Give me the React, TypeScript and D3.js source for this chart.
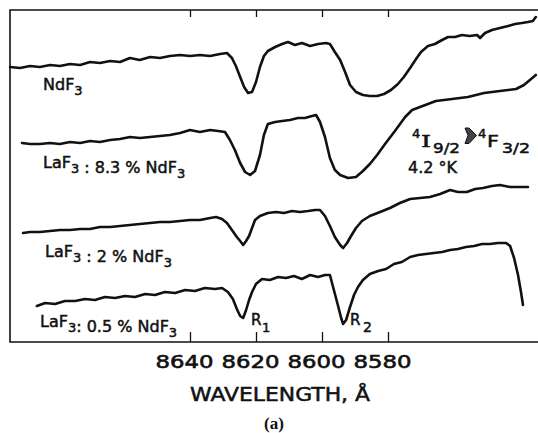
import React, { useRef, useEffect } from 'react';
import { select, scaleLinear, line, axisBottom, axisTop } from 'd3';

// wavelength (Angstrom) and signal (arb. units)
const ndf3Wl = [8694.5,8691.5,8688.5,8685.5,8682.4,8679.4,8676.4,8673.3,8670.3,8667.3,8664.2,8661.2,8658.2,8655.2,8652.1,8649.1,8646.1,8643.0,8640.0,8637.0,8633.9,8630.9,8628.8,8627.3,8626.1,8624.8,8623.6,8622.4,8621.2,8620.0,8618.8,8617.6,8616.4,8614.2,8612.1,8610.3,8608.2,8606.1,8603.6,8601.2,8598.8,8597.6,8596.1,8594.5,8593.0,8591.5,8589.7,8587.6,8585.5,8583.3,8581.2,8579.1,8577.0,8575.2,8573.3,8571.5,8570.0,8567.9,8565.8,8563.6,8561.8,8559.7,8557.6,8555.2,8553.0,8552.1,8550.6,8548.5,8546.1,8543.6,8541.5,8539.4,8537.6,8536.1,8535.2];
const ndf3Int = [273,272,274,273,275,274,276,275,278,277,279,278,282,280,283,282,284,285,284,285,284,286,287,282,274,263,253,247,248,258,273,284,289,293,296,298,295,297,294,296,297,296,288,280,268,255,248,245,244,244,246,250,256,263,272,281,288,294,296,300,303,303,305,304,305,302,307,310,312,314,316,317,318,319,323];

const la83Wl = [8690.9,8688.5,8685.5,8682.4,8679.4,8676.4,8673.3,8670.3,8667.3,8664.2,8661.2,8658.2,8655.2,8652.1,8649.1,8646.1,8643.0,8640.0,8637.0,8633.9,8631.5,8629.4,8627.9,8626.4,8624.8,8623.3,8621.8,8620.3,8618.8,8617.6,8616.4,8614.2,8612.1,8609.7,8607.3,8605.2,8603.0,8601.8,8600.6,8599.1,8597.6,8596.1,8594.5,8592.1,8589.7,8587.6,8585.5,8583.3,8580.9,8577.9,8574.8,8572.7,8570.3,8567.9,8565.5,8563.0,8560.6,8558.2,8555.8,8553.3,8550.9,8548.5,8546.1,8543.6,8541.2,8538.8,8537.0,8535.2];
const la83Int = [197,196,196,197,196,198,197,199,198,200,201,203,202,203,204,205,207,210,208,210,209,208,200,190,177,168,165,169,185,205,216,218,219,220,222,222,224,225,218,203,182,170,165,162,163,169,176,185,196,209,223,230,233,236,239,240,241,242,243,245,247,248,249,250,251,255,260,265];

const la2Wl = [8690.6,8688.5,8685.5,8682.4,8679.4,8676.4,8673.3,8670.3,8667.3,8664.2,8661.2,8658.2,8655.2,8652.1,8649.1,8646.1,8643.0,8640.0,8637.0,8633.9,8632.1,8630.3,8628.8,8627.3,8625.8,8624.8,8623.9,8623.0,8622.1,8621.2,8620.3,8618.8,8616.4,8613.9,8611.5,8609.1,8606.7,8604.2,8602.1,8600.6,8599.1,8597.6,8596.1,8594.5,8593.6,8592.4,8591.2,8589.7,8587.9,8585.5,8582.4,8579.4,8576.4,8573.3,8570.3,8567.3,8564.2,8561.2,8558.8,8556.1,8553.6,8551.2,8548.5,8546.1,8543.0,8540.0,8537.6];
const la2Int = [107,108,108,109,110,110,111,111,113,113,114,115,116,117,118,118,119,120,120,122,123,121,117,110,103,99,95,99,104,112,120,124,127,128,127,129,128,129,130,130,124,114,103,95,92,97,104,112,119,124,128,132,137,141,142,143,146,150,148,148,151,152,154,155,153,153,153];

const la05Wl = [8686.4,8683.9,8680.9,8677.9,8674.8,8671.8,8668.8,8665.8,8662.7,8659.7,8656.7,8653.6,8650.6,8647.6,8644.5,8641.5,8638.5,8635.5,8632.4,8630.3,8628.5,8627.0,8625.8,8624.8,8623.9,8623.0,8622.1,8621.2,8620.0,8618.2,8615.8,8613.3,8610.9,8608.5,8606.1,8603.6,8601.2,8599.1,8597.6,8596.4,8595.2,8594.2,8593.6,8592.7,8591.5,8590.3,8589.1,8587.6,8585.5,8583.0,8580.6,8578.2,8575.8,8573.3,8570.9,8568.5,8566.1,8563.6,8561.2,8558.8,8556.4,8553.9,8551.5,8549.1,8546.7,8544.2,8543.0,8541.8,8540.6,8539.7,8539.1];
const la05Int = [34,37,36,39,39,41,40,43,42,44,43,46,45,48,47,50,49,52,51,52,48,41,31,24,22,30,40,48,56,61,60,63,62,64,61,65,63,65,65,50,35,22,16,20,33,45,53,60,66,69,71,76,78,83,85,86,87,88,90,91,93,94,96,96,97,97,94,82,65,48,35];

const tickWl = [8640, 8620, 8600, 8580];

const W = 538;
const H = 433;
const frameLeft = 10;
const frameTop = 10;
const frameBottom = 342;
const font = "'DejaVu Sans', sans-serif";

export default function App() {
  const gRef = useRef(null);

  const x = scaleLinear().domain([8640, 8580]).range([190, 388]);
  const y = scaleLinear().domain([0, 330]).range([340, 10]);

  useEffect(() => {
    const g = select(gRef.current);

    const series = [
      [ndf3Wl, ndf3Int],
      [la83Wl, la83Int],
      [la2Wl, la2Int],
      [la05Wl, la05Int],
    ].map(([wl, v]) => wl.map((w, i) => [w, v[i]]));

    const path = line().x(d => x(d[0])).y(d => y(d[1]));

    g.select('#traces')
      .selectAll('path')
      .data(series)
      .join('path')
      .attr('d', path)
      .attr('fill', 'none')
      .attr('stroke', '#111')
      .attr('stroke-width', 2.6)
      .attr('stroke-linejoin', 'round')
      .attr('stroke-linecap', 'round');

    // bottom ticks point inward, labels underneath
    const xb = axisBottom(x)
      .tickValues(tickWl)
      .tickFormat(d => String(d))
      .tickSizeInner(-10)
      .tickSizeOuter(0)
      .tickPadding(13);
    const gb = g.select('#xaxis').attr('transform', `translate(0,${frameBottom})`).call(xb);
    gb.select('.domain').remove();
    gb.attr('font-family', null).attr('font-size', null);
    gb.selectAll('line').attr('stroke', '#111').attr('stroke-width', 1.3);
    gb.selectAll('text')
      .attr('fill', '#111')
      .attr('stroke', '#111')
      .attr('stroke-width', 0.6)
      .style('font-family', font)
      .style('font-size', '18px')
      .attr('dx', -6)
      .attr('textLength', 58)
      .attr('lengthAdjust', 'spacingAndGlyphs');

    const xt = axisTop(x).tickValues(tickWl).tickSizeInner(-7).tickSizeOuter(0).tickFormat(() => '');
    const gt = g.select('#xtop').attr('transform', `translate(0,${frameTop})`).call(xt);
    gt.select('.domain').remove();
    gt.selectAll('line').attr('stroke', '#111').attr('stroke-width', 1.3);
  }, []);

  const sub = (t, size = 13, d = 5) => (
    <>
      <tspan dy={d} fontSize={size}>{t}</tspan>
      <tspan dy={-d}></tspan>
    </>
  );

  return (
    <svg width={W} height={H} style={{ position: 'absolute', left: 0, top: 0, background: '#fff' }}>
      <g ref={gRef}>
        <path d={`M${W},${frameTop}H${frameLeft}V${frameBottom}H${W}`} fill="none" stroke="#111" strokeWidth={1.6} />
        <g id="xtop"></g>
        <g id="xaxis"></g>
        <g id="traces"></g>
      </g>

      <g fontFamily={font} fontSize={16} fill="#111" stroke="#111" strokeWidth={0.5}>
        <text x={43} y={90}>NdF{sub('3')}</text>
        <text x={43} y={168}>LaF{sub('3')} : 8.3 % NdF{sub('3')}</text>
        <text x={45} y={257}>LaF{sub('3')} : 2 % NdF{sub('3')}</text>
        <text x={40} y={327}>LaF{sub('3')}: 0.5 % NdF{sub('3')}</text>

        <text x={251} y={325} fontSize={15}>R</text>
        <text x={262} y={332} fontSize={13}>1</text>
        <text x={350} y={325} fontSize={15}>R</text>
        <text x={363} y={332} fontSize={14}>2</text>

        <text x={412} y={138} fontSize={13}>4</text>
        <text x={421} y={147} fontSize={16.5} fontFamily="'DejaVu Serif', serif" textLength={10} lengthAdjust="spacingAndGlyphs">I</text>
        <text x={433} y={153} fontSize={13.5} textLength={27} lengthAdjust="spacingAndGlyphs">9/2</text>
        <text x={478} y={138} fontSize={13}>4</text>
        <text x={487} y={147} fontSize={16.5} textLength={12} lengthAdjust="spacingAndGlyphs">F</text>
        <text x={502} y={153} fontSize={13.5} textLength={28} lengthAdjust="spacingAndGlyphs">3/2</text>
        <text x={408} y={173} fontSize={16} textLength={49} lengthAdjust="spacingAndGlyphs">4.2 °K</text>

        <text x={280} y={401} fontSize={19} textAnchor="middle" textLength={180} lengthAdjust="spacingAndGlyphs">WAVELENGTH, Å</text>
      </g>
      <path d="M465,128L469,128L476.5,135.5L469,143.5L465,143.5L468,135.5Z" fill="#444" stroke="#111" strokeWidth={1} />
      <text x={274} y={429} textAnchor="middle" fontFamily="'Liberation Serif', serif" fontWeight="bold" fontSize={17} fill="#111">(a)</text>
    </svg>
  );
}
